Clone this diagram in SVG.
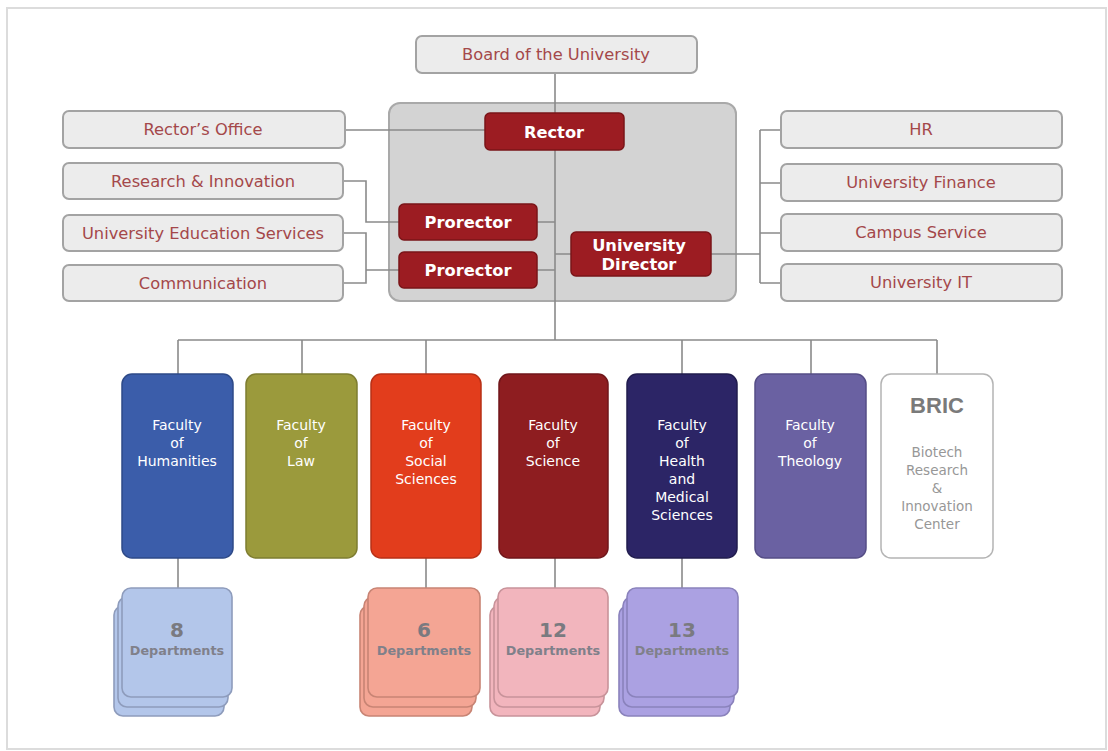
<svg xmlns="http://www.w3.org/2000/svg" width="1108" height="751" viewBox="0 0 1108 751">
  <defs>
    <style>
      .lbox { fill: #ececec; stroke: #a3a3a3; stroke-width: 2; }
      .ltxt { font-family: "DejaVu Sans", Verdana, sans-serif; font-size: 16.3px; fill: #a4484a; text-anchor: middle; }
      .rbox { fill: #9c1c22; stroke: #7a1418; stroke-width: 1.5; }
      .rtxt { font-family: "DejaVu Sans", Verdana, sans-serif; font-size: 16.3px; font-weight: bold; fill: #ffffff; text-anchor: middle; }
      .fac { stroke-width: 1.5; }
      .ftxt { font-family: "DejaVu Sans", Verdana, sans-serif; font-size: 14px; fill: #ffffff; text-anchor: middle; }
      .btxt { font-family: "DejaVu Sans", Verdana, sans-serif; font-size: 13.5px; fill: #979797; text-anchor: middle; }
      .dnum { font-family: "DejaVu Sans", Verdana, sans-serif; font-size: 20px; font-weight: bold; fill: #7a7a80; text-anchor: middle; }
      .dtxt { font-family: "DejaVu Sans", Verdana, sans-serif; font-size: 12.8px; font-weight: bold; fill: #80808a; text-anchor: middle; }
      .conn { fill: none; stroke: #8a8a8a; stroke-width: 1.6; }
    </style>
  </defs>

  <!-- page card -->
  <rect x="0" y="0" width="1108" height="751" fill="#ffffff"/>
  <rect x="7" y="8" width="1099" height="741" fill="#ffffff" stroke="#dcdcdc" stroke-width="2"/>

  <!-- rectorate panel -->
  <rect id="rectorate" x="389" y="103" width="347" height="198" rx="11" fill="#d3d3d3" stroke="#a9a9a9" stroke-width="2"/>

  <!-- connectors -->
  <g id="connectors" class="conn">
    <path d="M555 73 V340"/>
    <path d="M345 130 H485"/>
    <path d="M343 181 H366 V222 H399"/>
    <path d="M343 233 H366 V283 H343 M366 270 H399"/>
    <path d="M537 222 H555 M537 270 H555 M555 254 H571"/>
    <path d="M711 254 H760 M760 130 V283 M760 130 H781 M760 183 H781 M760 233 H781 M760 283 H781"/>
    <path d="M178 340 H937 M178 340 V374 M302 340 V374 M426 340 V374 M682 340 V374 M811 340 V374 M937 340 V374"/>
    <path d="M178 558 V588 M426 558 V588 M555 558 V588 M682 558 V588"/>
  </g>

  <g id="board">
    <rect class="lbox" x="416" y="36" width="281" height="37" rx="6"/>
    <text class="ltxt" x="556" y="60">Board of the University</text>
  </g>

  <g id="rector">
    <rect class="rbox" x="485" y="113" width="139" height="37" rx="5"/>
    <text class="rtxt" x="554" y="138">Rector</text>
  </g>
  <g id="prorector1">
    <rect class="rbox" x="399" y="204" width="138" height="36" rx="5"/>
    <text class="rtxt" x="468" y="228">Prorector</text>
  </g>
  <g id="prorector2">
    <rect class="rbox" x="399" y="252" width="138" height="36" rx="5"/>
    <text class="rtxt" x="468" y="276">Prorector</text>
  </g>
  <g id="director">
    <rect class="rbox" x="571" y="232" width="140" height="44" rx="5"/>
    <text class="rtxt" x="639" y="251">University</text>
    <text class="rtxt" x="639" y="270">Director</text>
  </g>

  <g id="rectors-office">
    <rect class="lbox" x="63" y="111" width="282" height="37" rx="6"/>
    <text class="ltxt" x="203" y="135">Rector’s Office</text>
  </g>
  <g id="research-innovation">
    <rect class="lbox" x="63" y="163" width="280" height="36" rx="6"/>
    <text class="ltxt" x="203" y="187">Research &amp; Innovation</text>
  </g>
  <g id="education-services">
    <rect class="lbox" x="63" y="215" width="280" height="36" rx="6"/>
    <text class="ltxt" x="203" y="239">University Education Services</text>
  </g>
  <g id="communication">
    <rect class="lbox" x="63" y="265" width="280" height="36" rx="6"/>
    <text class="ltxt" x="203" y="289">Communication</text>
  </g>

  <g id="hr">
    <rect class="lbox" x="781" y="111" width="281" height="37" rx="6"/>
    <text class="ltxt" x="921" y="135">HR</text>
  </g>
  <g id="finance">
    <rect class="lbox" x="781" y="164" width="281" height="37" rx="6"/>
    <text class="ltxt" x="921" y="188">University Finance</text>
  </g>
  <g id="campus">
    <rect class="lbox" x="781" y="214" width="281" height="37" rx="6"/>
    <text class="ltxt" x="921" y="238">Campus Service</text>
  </g>
  <g id="it">
    <rect class="lbox" x="781" y="264" width="281" height="37" rx="6"/>
    <text class="ltxt" x="921" y="288">University IT</text>
  </g>

  <!-- faculties -->
  <g id="humanities">
    <rect class="fac" x="122" y="374" width="111" height="184" rx="10" fill="#3b5daa" stroke="#2e4a88"/>
    <text class="ftxt" x="177" y="430">Faculty</text>
    <text class="ftxt" x="177" y="448">of</text>
    <text class="ftxt" x="177" y="466">Humanities</text>
  </g>
  <g id="law">
    <rect class="fac" x="246" y="374" width="111" height="184" rx="10" fill="#9b9a3c" stroke="#7e7d30"/>
    <text class="ftxt" x="301" y="430">Faculty</text>
    <text class="ftxt" x="301" y="448">of</text>
    <text class="ftxt" x="301" y="466">Law</text>
  </g>
  <g id="social-sciences">
    <rect class="fac" x="371" y="374" width="110" height="184" rx="10" fill="#e23d1c" stroke="#b83016"/>
    <text class="ftxt" x="426" y="430">Faculty</text>
    <text class="ftxt" x="426" y="448">of</text>
    <text class="ftxt" x="426" y="466">Social</text>
    <text class="ftxt" x="426" y="484">Sciences</text>
  </g>
  <g id="science">
    <rect class="fac" x="499" y="374" width="109" height="184" rx="10" fill="#8e1d20" stroke="#70161a"/>
    <text class="ftxt" x="553" y="430">Faculty</text>
    <text class="ftxt" x="553" y="448">of</text>
    <text class="ftxt" x="553" y="466">Science</text>
  </g>
  <g id="health-medical">
    <rect class="fac" x="627" y="374" width="110" height="184" rx="10" fill="#2c2566" stroke="#211c4e"/>
    <text class="ftxt" x="682" y="430">Faculty</text>
    <text class="ftxt" x="682" y="448">of</text>
    <text class="ftxt" x="682" y="466">Health</text>
    <text class="ftxt" x="682" y="484">and</text>
    <text class="ftxt" x="682" y="502">Medical</text>
    <text class="ftxt" x="682" y="520">Sciences</text>
  </g>
  <g id="theology">
    <rect class="fac" x="755" y="374" width="111" height="184" rx="10" fill="#6a61a2" stroke="#554d86"/>
    <text class="ftxt" x="810" y="430">Faculty</text>
    <text class="ftxt" x="810" y="448">of</text>
    <text class="ftxt" x="810" y="466">Theology</text>
  </g>
  <g id="bric">
    <rect class="fac" x="881" y="374" width="112" height="184" rx="10" fill="#ffffff" stroke="#b4b4b4"/>
    <text x="937" y="413" font-family="Liberation Sans, Arial, sans-serif" font-size="22" font-weight="bold" fill="#7a7a7a" text-anchor="middle">BRIC</text>
    <text class="btxt" x="937" y="457">Biotech</text>
    <text class="btxt" x="937" y="475">Research</text>
    <text class="btxt" x="937" y="493">&amp;</text>
    <text class="btxt" x="937" y="511">Innovation</text>
    <text class="btxt" x="937" y="529">Center</text>
  </g>

  <!-- department stacks -->
  <g id="dept-humanities" fill="#b3c6ea" stroke="#8e9cbc" stroke-width="1.6">
    <rect x="114" y="606" width="110" height="110" rx="9"/>
    <rect x="118" y="597" width="110" height="110" rx="9"/>
    <rect x="122" y="588" width="110" height="109" rx="9"/>
    <text class="dnum" stroke="none" x="177" y="637">8</text>
    <text class="dtxt" stroke="none" x="177" y="655">Departments</text>
  </g>
  <g id="dept-social" fill="#f4a594" stroke="#c88474" stroke-width="1.6">
    <rect x="360" y="606" width="112" height="110" rx="9"/>
    <rect x="364" y="597" width="112" height="110" rx="9"/>
    <rect x="368" y="588" width="112" height="109" rx="9"/>
    <text class="dnum" stroke="none" x="424" y="637">6</text>
    <text class="dtxt" stroke="none" x="424" y="655">Departments</text>
  </g>
  <g id="dept-science" fill="#f2b5bd" stroke="#c8939a" stroke-width="1.6">
    <rect x="490" y="606" width="110" height="110" rx="9"/>
    <rect x="494" y="597" width="110" height="110" rx="9"/>
    <rect x="498" y="588" width="110" height="109" rx="9"/>
    <text class="dnum" stroke="none" x="553" y="637">12</text>
    <text class="dtxt" stroke="none" x="553" y="655">Departments</text>
  </g>
  <g id="dept-health" fill="#aba1e2" stroke="#8a82bc" stroke-width="1.6">
    <rect x="619" y="606" width="111" height="110" rx="9"/>
    <rect x="623" y="597" width="111" height="110" rx="9"/>
    <rect x="627" y="588" width="111" height="109" rx="9"/>
    <text class="dnum" stroke="none" x="682" y="637">13</text>
    <text class="dtxt" stroke="none" x="682" y="655">Departments</text>
  </g>
</svg>
